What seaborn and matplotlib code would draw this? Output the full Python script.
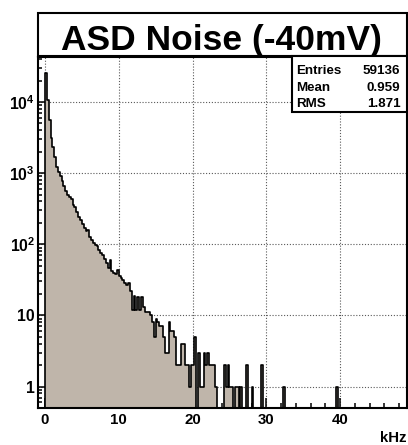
import numpy as np
import pandas as pd
import matplotlib
matplotlib.use('Agg')
import matplotlib.pyplot as plt
from matplotlib.patches import Rectangle
from matplotlib.ticker import FixedLocator, FixedFormatter, LogLocator, MultipleLocator, NullFormatter
import seaborn as sns

# counts per 0.25 kHz bin, 0 -> 30 kHz
counts_0_30 = [
    25500, 10700, 5500, 3100, 2340, 1700, 1230, 1050,   # 0-2
    900, 780, 660, 560, 500, 460, 430, 360,             # 2-4
    330, 285, 245, 220, 195, 172, 152, 160,             # 4-6
    128, 115, 104, 98, 96, 84, 76, 70,                  # 6-8
    62, 55, 46, 60, 42, 40, 38, 44,                     # 8-10
    36, 34, 31, 29, 27, 29, 22, 12,                     # 10-12
    19, 12, 18, 12, 18, 13, 11, 11,                     # 12-14
    11, 10, 8, 5, 9, 8, 7, 7,                           # 14-16
    5, 3, 3, 8, 6, 6, 5, 2,                             # 16-18
    2, 2, 4, 4, 2, 2, 1, 2,                             # 18-20
    2, 5, 0, 3, 1, 1, 3, 2,                             # 20-22
    3, 2, 2, 2, 1, 0, 0, 0,                             # 22-24
    0, 2, 1, 2, 1, 1, 0, 1,                             # 24-26
    1, 0, 1, 0, 0, 2, 0, 0,                             # 26-28
    1, 0, 0, 0, 0, 2, 0, 0,                             # 28-30
]
# lone entries further out
far_bins = [32.25, 39.5]
far_counts = [1, 1]

title = 'ASD Noise (-40mV)'
stat_names = ['Entries', 'Mean', 'RMS']
stat_values = ['59136', '0.959', '1.871']
x_ticks = [0, 10, 20, 30, 40]
y_ticks = [1, 10, 100, 1000, 10000]
y_ticklabels = ['1', '10', r'$\mathbf{10^{2}}$', r'$\mathbf{10^{3}}$', r'$\mathbf{10^{4}}$']

bin_w = 0.25
x_lo, x_hi = -1, 49
nbins = int(round((x_hi - x_lo) / bin_w))
n = np.zeros(nbins)
i0 = int(round((0 - x_lo) / bin_w))
n[i0:i0 + len(counts_0_30)] = counts_0_30
for b, c in zip(far_bins, far_counts):
    n[int(round((b - x_lo) / bin_w))] = c
df = pd.DataFrame({'khz': x_lo + bin_w * (np.arange(nbins) + 0.5), 'n': n})

plt.rcParams['font.family'] = ['Liberation Sans', 'DejaVu Sans']
plt.rcParams['font.weight'] = 'bold'
plt.rcParams['mathtext.fontset'] = 'custom'
plt.rcParams['mathtext.rm'] = 'Liberation Sans:bold'
plt.rcParams['mathtext.bf'] = 'Liberation Sans:bold'
plt.rcParams['mathtext.it'] = 'Liberation Sans:bold'

W, H = 408, 445
def fx(px): return px / W
def fy(py): return 1 - py / H

fig = plt.figure(figsize=(W / 100, H / 100), dpi=100)
ax = fig.add_axes([fx(37.6), fy(408), fx(406.5) - fx(37.6), fy(57) - fy(408)])

sns.histplot(data=df, x='khz', weights='n', binwidth=bin_w, binrange=(x_lo, x_hi),
             element='step', fill=True, color='#bfb5aa', edgecolor='black',
             linewidth=1.2, alpha=1, ax=ax)

ax.set_yscale('log')
ax.set_xlim(x_lo, x_hi)
ax.set_ylim(0.5, 42850)
ax.set_xlabel('')
ax.set_ylabel('')

ax.xaxis.set_major_locator(FixedLocator(x_ticks))
ax.xaxis.set_major_formatter(FixedFormatter([str(t) for t in x_ticks]))
ax.xaxis.set_minor_locator(MultipleLocator(2))
ax.yaxis.set_major_locator(FixedLocator(y_ticks))
ax.yaxis.set_major_formatter(FixedFormatter(y_ticklabels))
ax.yaxis.set_minor_locator(LogLocator(base=10, subs=np.arange(2, 10) * 1.0, numticks=20))
ax.yaxis.set_minor_formatter(NullFormatter())

ax.tick_params(which='both', direction='in', top=False, right=False, width=1.1)
ax.tick_params(axis='x', which='major', length=7.2, labelsize=10.8, pad=3.8)
ax.tick_params(axis='x', which='minor', length=3.6)
ax.tick_params(axis='y', which='major', length=5, labelsize=11.3, pad=2.0)
ax.tick_params(axis='y', which='minor', length=3)
for s in ax.spines.values():
    s.set_linewidth(1.5)

ax.set_axisbelow(True)
ax.grid(True, which='major', color='0.35', linestyle=(0, (1, 1.6)), linewidth=0.8)

# title pave
fig.patches.append(Rectangle((fx(37.6), fy(56)), fx(406.5) - fx(37.6), fy(12.7) - fy(56),
                             transform=fig.transFigure, facecolor='white', edgecolor='black',
                             linewidth=1.5, zorder=5))
fig.text(fx(221), fy(50), title, ha='center', va='baseline', fontsize=25.5, fontweight='bold', zorder=6)

# stats pave
fig.patches.append(Rectangle((fx(291.7), fy(111.7)), fx(406.5) - fx(291.7), fy(56) - fy(111.7),
                             transform=fig.transFigure, facecolor='white', edgecolor='black',
                             linewidth=1.5, zorder=5))
for k, (name, val) in enumerate(zip(stat_names, stat_values)):
    yb = 74 + k * 16.6
    fig.text(fx(296), fy(yb), name, ha='left', va='baseline', fontsize=9.6, fontweight='bold', zorder=6)
    fig.text(fx(400.5), fy(yb), val, ha='right', va='baseline', fontsize=9.6, fontweight='bold', zorder=6)

fig.text(fx(406.5), fy(442), 'kHz', ha='right', va='baseline', fontsize=10.8, fontweight='bold')

fig.savefig('out.png', dpi=100)
